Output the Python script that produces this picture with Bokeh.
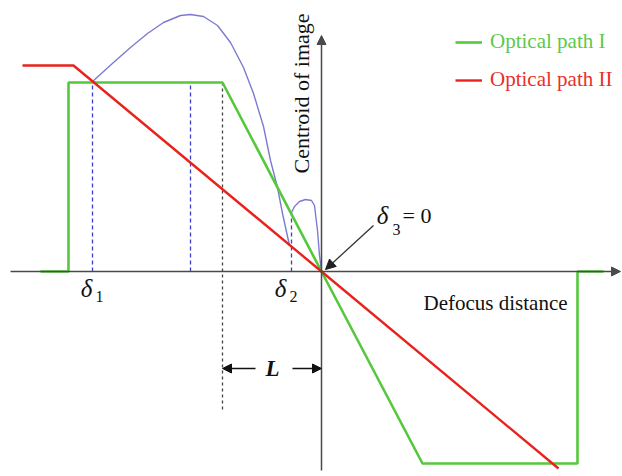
import math
from bokeh.plotting import figure
from bokeh.models import Range1d, Arrow, NormalHead, Legend, LegendItem
from bokeh.core.properties import value
from bokeh.embed import file_html
from bokeh.resources import INLINE

# Centroid of image vs. defocus distance (schematic units, origin at focus)
green_x = [-281, -253, -253, -99, 0, 101, 256, 256, 282]
green_y = [0, 0, 189, 189, 0, -192, -192, 0, 0]

red_x = [-299, -248, 0, 237]
red_y = [206, 206, 0, -197]

# blue response curve, first lobe (delta1 -> delta2)
blue1_x = [-229, -208, -191, -174, -158, -141, -131, -118, -104, -91, -78, -68, -58, -51, -44, -39, -32]
blue1_y = [190, 209, 224, 238, 249, 256, 257, 255, 246, 229, 204, 178, 145, 111, 84, 58, 26]
# blue response curve, second lobe (delta2 -> delta3)
blue2_x = [-30, -27, -22, -16, -10, -7, -4, -2, 0]
blue2_y = [59, 65, 70, 72, 71, 66, 41, 16, 0]

# vertical dashed markers: (x, top)
delta1_x, delta1_top = -229, 190
peak_x, peak_top = -131, 189
delta2_x, delta2_top = -30, 59
knee_x, knee_top, knee_bottom = -99, 189, -139

FONT = value("Liberation Serif")
GREEN = "#55c83c"
RED = "#e8231e"
BLUE = "#7b7bd2"
BLUE_D = "#3d3dc8"
AXIS = "#4a4a4a"

p = figure(width=622, height=476, output_backend="svg", toolbar_location=None,
           x_range=Range1d(-321, 301), y_range=Range1d(-205, 271),
           min_border=0, min_border_left=0, min_border_right=0,
           min_border_top=0, min_border_bottom=0)
p.axis.visible = False
p.grid.visible = False
p.outline_line_color = None
p.background_fill_color = "white"

# coordinate axes with arrow heads
p.add_layout(Arrow(end=NormalHead(size=9, fill_color=AXIS, line_color=AXIS),
                   x_start=-311, y_start=0, x_end=299, y_end=0,
                   line_color=AXIS, line_width=1.5))
p.add_layout(Arrow(end=NormalHead(size=9, fill_color=AXIS, line_color=AXIS),
                   x_start=0, y_start=-199, x_end=0, y_end=236,
                   line_color=AXIS, line_width=1.5))

# dashed markers
p.segment(x0=[delta1_x, peak_x, delta2_x], y0=[0, 0, 0],
          x1=[delta1_x, peak_x, delta2_x], y1=[delta1_top, peak_top, delta2_top],
          line_color=BLUE_D, line_width=1.3, line_dash="4 3")
p.segment(x0=[knee_x], y0=[knee_top], x1=[knee_x], y1=[knee_bottom],
          line_color="#444444", line_width=1.3, line_dash="3 3")

# curves
p.line(blue1_x, blue1_y, line_color=BLUE, line_width=1.4)
p.line(blue2_x, blue2_y, line_color=BLUE, line_width=1.4)
r_green = p.line(green_x, green_y, line_color=GREEN, line_width=2.6)
r_red = p.line(red_x, red_y, line_color=RED, line_width=2.4)

# axis titles
p.text(x=[102], y=[-31], text=["Defocus distance"], text_font=FONT,
       text_font_size="21px", text_color="#111111",
       text_align="left", text_baseline="middle")
p.text(x=[-20], y=[178], text=["Centroid of image"], text_font=FONT,
       text_font_size="22px", text_color="#111111", angle=math.pi / 2,
       text_align="center", text_baseline="middle")

# delta labels
p.text(x=[-235, -41, 61], y=[-17, -17, 56], text=["δ", "δ", "δ"], text_font=FONT,
       text_font_size="25px", text_font_style="italic", text_color="#111111",
       text_align="center", text_baseline="middle")
p.text(x=[-222, -28, 75], y=[-25, -25, 42], text=["1", "2", "3"], text_font=FONT,
       text_font_size="16px", text_color="#111111",
       text_align="center", text_baseline="middle")
p.text(x=[81], y=[56], text=["= 0"], text_font=FONT,
       text_font_size="22px", text_color="#111111",
       text_align="left", text_baseline="middle")
p.add_layout(Arrow(end=NormalHead(size=10, fill_color="#222222", line_color="#222222"),
                   x_start=52, y_start=46, x_end=4, y_end=2,
                   line_color="#333333", line_width=1.3))

# L spacing
p.text(x=[-49], y=[-97], text=["L"], text_font=FONT, text_font_size="23px",
       text_font_style="bold italic", text_color="#111111",
       text_align="center", text_baseline="middle")
for xs, xe in [(-66, -99), (-29, 0)]:
    p.add_layout(Arrow(end=NormalHead(size=9, fill_color="#111111", line_color="#111111"),
                       x_start=xs, y_start=-97, x_end=xe, y_end=-97,
                       line_color="#111111", line_width=1.3))

# legends
for rend, label, color, top in [(r_green, "Optical path I", "#5cc94a", 34),
                                (r_red, "Optical path II", "#e8302a", 72)]:
    lg = Legend(items=[LegendItem(label=label, renderers=[rend])],
                location=(455, 476 - top - 20), padding=0, margin=0, spacing=0,
                glyph_width=27, glyph_height=20, label_height=20, label_standoff=8,
                label_text_font="Liberation Serif", label_text_font_size="21px",
                label_text_color=color, border_line_color=None,
                background_fill_alpha=0)
    p.add_layout(lg, "center")

open("out.html", "w").write(file_html(p, INLINE))
